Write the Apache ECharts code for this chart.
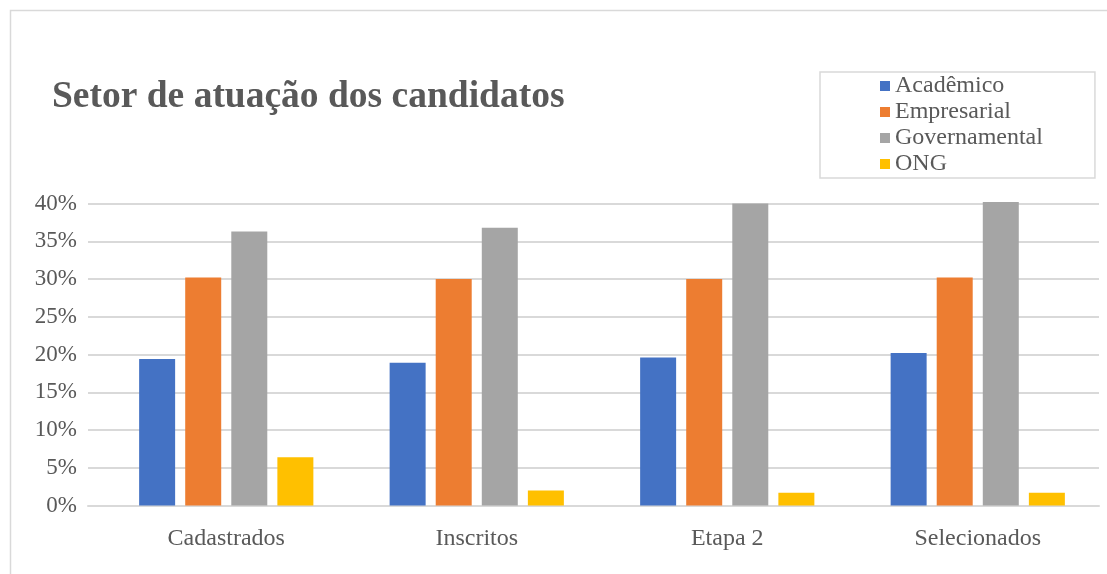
<!DOCTYPE html>
<html>
<head>
<meta charset="utf-8">
<title>Setor de atuação dos candidatos</title>
<script src="https://cdn.jsdelivr.net/npm/echarts@6/dist/echarts.min.js"></script>
<style>
  html, body { margin: 0; padding: 0; background: #fff; }
  #main { width: 1107px; height: 574px; }
</style>
</head>
<body>
<div id="main"></div>
<script>
// dados (percentuais)
var categorias = ['Cadastrados', 'Inscritos', 'Etapa 2', 'Selecionados'];
var academico = [19.4, 18.9, 19.6, 20.2];
var empresarial = [30.2, 30.0, 30.0, 30.2];
var governamental = [36.3, 36.8, 40.0, 40.2];
var ong = [6.4, 2.0, 1.7, 1.7];

var cores = ['#4472C4', '#ED7D31', '#A5A5A5', '#FFC000'];
var fonte = '"Liberation Serif", "Times New Roman", serif';
var cinza = '#d9d9d9';

var chart = echarts.init(document.getElementById('main'));

function serie(nome, dados) {
    return {
        name: nome,
        type: 'bar',
        xAxisIndex: 1,
        yAxisIndex: 1,
        barWidth: 36,
        barGap: '28%',
        clip: false,
        data: dados
    };
}

var option = {
    color: cores,
    animation: false,
    textStyle: { fontFamily: fonte },
    graphic: [{
        type: 'rect',
        silent: true,
        shape: { x: 10.5, y: 10.5, width: 1200, height: 700 },
        style: { fill: 'none', stroke: cinza, lineWidth: 1.5 }
    }],
    title: {
        text: 'Setor de atuação dos candidatos',
        left: 47,
        top: 73,
        textStyle: {
            fontFamily: fonte,
            fontWeight: 'bold',
            fontSize: 37.5,
            color: '#595959'
        }
    },
    legend: {
        orient: 'vertical',
        left: 820,
        top: 72,
        padding: [2, 52, 2, 60],
        itemGap: 2,
        itemWidth: 10,
        itemHeight: 10,
        icon: 'rect',
        borderColor: cinza,
        borderWidth: 1.5,
        textStyle: { fontFamily: fonte, fontSize: 24, color: '#595959' },
        data: ['Acadêmico', 'Empresarial', 'Governamental', 'ONG']
    },
    // grade 0: linhas de grade e rótulos do eixo y; grade 1: barras
    grid: [
        { left: 88, right: 8, top: 203.5, bottom: 68.5 },
        { left: 101, right: 4, top: 203.5, bottom: 68.5 }
    ],
    xAxis: [{
        type: 'category',
        gridIndex: 0,
        data: categorias,
        axisTick: { show: false },
        axisLabel: { show: false },
        axisLine: { lineStyle: { color: cinza, width: 2 } }
    }, {
        type: 'category',
        gridIndex: 1,
        data: categorias,
        axisTick: { show: false },
        axisLine: { show: false },
        axisLabel: { margin: 21, fontFamily: fonte, fontSize: 24, color: '#595959' }
    }],
    yAxis: [{
        type: 'value',
        gridIndex: 0,
        min: 0,
        max: 40,
        interval: 5,
        axisLine: { show: false },
        axisTick: { show: false },
        splitLine: { lineStyle: { color: cinza, width: 2 } },
        axisLabel: {
            margin: 11,
            formatter: '{value}%',
            fontFamily: fonte,
            fontSize: 23,
            color: '#595959'
        }
    }, {
        type: 'value',
        gridIndex: 1,
        min: 0,
        max: 40,
        interval: 5,
        axisLine: { show: false },
        axisTick: { show: false },
        splitLine: { show: false },
        axisLabel: { show: false }
    }],
    series: [
        serie('Acadêmico', academico),
        serie('Empresarial', empresarial),
        serie('Governamental', governamental),
        serie('ONG', ong)
    ]
};

chart.setOption(option);
</script>
</body>
</html>
